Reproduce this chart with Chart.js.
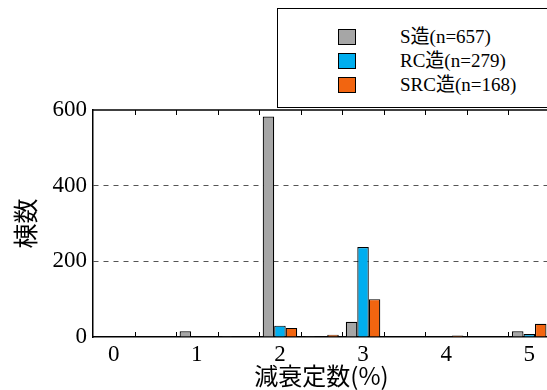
<!DOCTYPE html>
<html>
<head>
<meta charset="utf-8">
<script src="https://cdn.jsdelivr.net/npm/chart.js@4.4.1/dist/chart.umd.min.js"></script>
<style>
  html, body { margin: 0; padding: 0; background: #fff; overflow: hidden; }
  #wrap { position: relative; width: 553px; height: 390px; }
  #legend {
    position: absolute; left: 277px; top: 8px; width: 290px; height: 100px;
    border: 1px solid #000; background: #fff; box-sizing: border-box;
    font-family: "Times New Roman", "Liberation Serif", "DejaVu Serif", serif, "Noto Sans CJK JP";
    font-size: 19px; color: #000;
  }
  .row { position: absolute; left: 0; height: 24px; }
  .sw { position: absolute; left: 60px; top: 0; width: 18px; height: 16px; border: 1px solid #000; box-sizing: border-box; }
  .lb { position: absolute; left: 122px; top: -4px; white-space: nowrap; line-height: 24px; }
</style>
</head>
<body>
<div id="wrap">
  <canvas id="c" width="553" height="390"></canvas>
  <div id="legend"></div>
</div>
<script>
// damping constant bins (%), 0.5 step
const categories = ['0', '0.5', '1', '1.5', '2', '2.5', '3', '3.5', '4', '4.5', '5'];
// number of buildings per bin
const sValues   = [null, null, 15, 2, 583, 2, 40, null, null, null, 15];
const rcValues  = [null, null, 1, 1, 30, 1, 238, 1, null, null, 8];
const srcValues = [null, null, 1, null, 24, 6, 100, null, 4, null, 35];
const seriesNames = ['S造(n=657)', 'RC造(n=279)', 'SRC造(n=168)'];
const seriesColors = ['#a6a6a6', '#00aeef', '#f26510'];
const yTicks = [0, 200, 400, 600];

const serif = '"Times New Roman", "Liberation Serif", "DejaVu Serif", serif, "Noto Sans CJK JP"';
const cjk = '"Noto Sans CJK JP", sans-serif';

// inward tick marks on the bin boundaries, top and bottom, plus the top frame
const frameTicks = {
  id: 'frameTicks',
  afterDraw(chart) {
    const ctx = chart.ctx, x = chart.scales.x, a = chart.chartArea;
    const step = x.getPixelForValue(1) - x.getPixelForValue(0);
    ctx.save();
    ctx.strokeStyle = '#000';
    ctx.lineWidth = 1;
    for (let i = 1; i <= categories.length; i++) {
      const px = Math.round(x.getPixelForValue(i) - step / 2) + 0.5;
      ctx.beginPath();
      ctx.moveTo(px, a.bottom); ctx.lineTo(px, a.bottom - 5);
      ctx.moveTo(px, a.top); ctx.lineTo(px, a.top + 5);
      ctx.stroke();
    }
    ctx.lineWidth = 1.5;
    ctx.beginPath();
    ctx.moveTo(a.left, a.top); ctx.lineTo(a.right, a.top);
    ctx.stroke();
    ctx.restore();
  }
};

const datasets = [sValues, rcValues, srcValues].map((vals, k) => ({
  label: seriesNames[k],
  data: vals,
  backgroundColor: seriesColors[k],
  borderColor: '#000',
  borderWidth: 1.2,
  borderSkipped: 'bottom',
  categoryPercentage: 0.83,
  barPercentage: 1.0
}));

new Chart(document.getElementById('c'), {
  type: 'bar',
  data: { labels: categories, datasets },
  options: {
    responsive: false,
    animation: false,
    layout: { padding: { left: 0, right: 3, top: 110, bottom: 0 } },
    plugins: { legend: { display: false }, tooltip: { enabled: false } },
    scales: {
      x: {
        offset: true,
        grid: { display: false, drawTicks: false },
        border: { display: true, color: '#000', width: 1.5 },
        ticks: {
          autoSkip: false, maxRotation: 0, padding: 4, color: '#000',
          font: { family: serif, size: 23 },
          callback: (v, i) => (categories[i].indexOf('.') < 0 ? categories[i] : '')
        },
        title: {
          display: true, text: '減衰定数(%)', color: '#000',
          font: { family: cjk, size: 24 },
          padding: { top: 0, bottom: 0 }
        },
        afterFit(s) { s.height = 53; }
      },
      y: {
        min: 0, max: 600,
        afterBuildTicks(s) { s.ticks = yTicks.map(v => ({ value: v })); },
        grid: {
          drawTicks: false,
          color: c => (c.tick && (c.tick.value === 0 || c.tick.value === 600)) ? 'rgba(0,0,0,0)' : '#555',
          lineWidth: 1
        },
        border: { display: true, color: '#000', width: 1.5, dash: [5, 5] },
        ticks: { padding: 6, color: '#000', font: { family: serif, size: 23 } },
        title: {
          display: true, text: '棟数', color: '#000',
          font: { family: cjk, size: 25 },
          padding: { top: 10, bottom: 0 }
        },
        afterFit(s) { s.width = 93; }
      }
    }
  },
  plugins: [frameTicks]
});

// legend rows built from the series
const lg = document.getElementById('legend');
seriesNames.forEach((name, k) => {
  const row = document.createElement('div');
  row.className = 'row';
  row.style.top = (20 + k * 24) + 'px';
  const sw = document.createElement('div');
  sw.className = 'sw';
  sw.style.background = seriesColors[k];
  const lb = document.createElement('div');
  lb.className = 'lb';
  lb.textContent = name;
  row.appendChild(sw); row.appendChild(lb);
  lg.appendChild(row);
});
</script>
</body>
</html>
